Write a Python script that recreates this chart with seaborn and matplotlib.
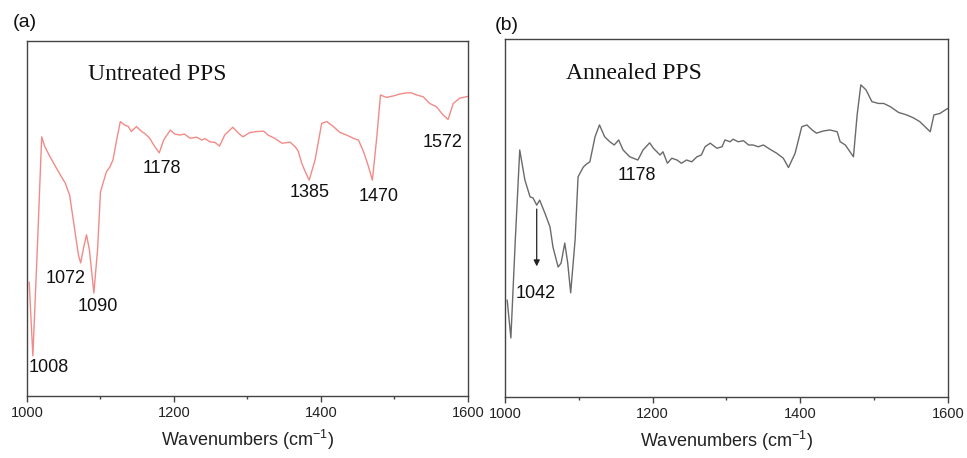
import numpy as np
import pandas as pd
import matplotlib
matplotlib.use("Agg")
import matplotlib.pyplot as plt
import seaborn as sns

# FTIR spectra, transmittance in arbitrary units (0-100)
untreated_wn = [1003, 1008, 1014, 1020, 1024, 1030, 1040, 1047, 1052, 1058, 1065, 1070,
                1073, 1077, 1081, 1085, 1091, 1096, 1100, 1108, 1113, 1117, 1122, 1127,
                1133, 1138, 1142, 1149, 1156, 1160, 1167, 1174, 1180, 1186, 1195, 1201,
                1208, 1214, 1222, 1231, 1238, 1242, 1249, 1256, 1262, 1269, 1280, 1288,
                1294, 1303, 1313, 1322, 1328, 1337, 1347, 1358, 1365, 1369, 1374, 1378,
                1384, 1392, 1401, 1408, 1417, 1426, 1435, 1444, 1451, 1458, 1464, 1470,
                1476, 1481, 1489, 1498, 1508, 1517, 1523, 1530, 1539, 1548, 1557, 1566,
                1573, 1580, 1589, 1598, 1600]
untreated_t = [32.1, 11.3, 41.1, 73.0, 70.4, 67.9, 64.2, 61.7, 60.0, 56.6, 46.8, 39.7,
               37.5, 41.7, 45.4, 41.1, 29.0, 41.1, 57.5, 63.1, 64.6, 66.5, 72.1, 77.3,
               76.3, 75.9, 74.5, 75.9, 74.5, 74.0, 72.6, 70.2, 68.5, 72.1, 74.9, 73.8,
               73.5, 73.8, 72.6, 72.9, 72.1, 72.5, 71.6, 71.4, 70.4, 73.5, 75.7, 74.0,
               73.0, 74.2, 74.5, 74.6, 73.5, 72.6, 71.2, 71.5, 70.2, 69.0, 65.5, 63.5,
               60.8, 66.5, 76.8, 77.3, 75.9, 74.2, 73.5, 72.6, 72.1, 68.8, 65.1, 60.8,
               73.0, 84.8, 84.1, 84.5, 85.1, 85.4, 85.4, 84.8, 84.3, 82.4, 81.5, 79.2,
               77.9, 82.4, 83.9, 84.3, 84.4]

annealed_wn = [1003, 1008, 1014, 1020, 1027, 1034, 1038, 1043, 1047, 1054, 1061, 1065,
               1072, 1076, 1081, 1085, 1089, 1095, 1099, 1106, 1110, 1115, 1122, 1128,
               1135, 1142, 1148, 1154, 1160, 1169, 1180, 1187, 1196, 1201, 1210, 1214,
               1220, 1226, 1233, 1239, 1246, 1253, 1260, 1266, 1271, 1278, 1287, 1294,
               1298, 1305, 1309, 1316, 1323, 1330, 1336, 1343, 1350, 1359, 1368, 1377,
               1384, 1393, 1402, 1409, 1416, 1422, 1431, 1440, 1450, 1454, 1461, 1472,
               1477, 1482, 1489, 1497, 1506, 1513, 1522, 1533, 1544, 1553, 1562, 1576,
               1581, 1589, 1598, 1600]
annealed_t = [27.1, 16.5, 43.9, 69.0, 60.6, 55.9, 55.6, 53.6, 55.0, 51.4, 47.5, 41.9,
              36.3, 37.4, 43.0, 37.4, 29.1, 43.9, 61.5, 64.2, 65.0, 65.7, 72.7, 76.0,
              72.7, 71.3, 70.4, 71.8, 69.0, 67.1, 66.2, 69.0, 71.0, 69.5, 67.6, 68.5,
              65.3, 66.7, 66.2, 65.3, 66.2, 65.7, 67.1, 67.6, 69.9, 70.9, 69.5, 69.9,
              71.8, 71.3, 72.0, 71.3, 71.6, 70.4, 70.4, 69.9, 70.4, 69.2, 68.1, 66.7,
              64.1, 68.1, 75.5, 76.0, 74.6, 73.7, 74.3, 74.6, 74.1, 71.3, 70.4, 67.1,
              78.8, 87.2, 85.8, 82.5, 82.0, 82.0, 81.1, 79.5, 78.8, 78.0, 76.9, 74.1,
              78.8, 79.2, 80.4, 80.6]

# Peak annotations: (text, x, y)
untreated_peaks = [("1008", 1029, 7.9), ("1072", 1053, 33.2), ("1090", 1097, 25.1),
                   ("1178", 1184, 64.2), ("1385", 1385, 57.2), ("1470", 1478, 56.3),
                   ("1572", 1566, 71.3)]
annealed_peaks = [("1178", 1179, 62.0), ("1042", 1042, 28.8)]

xticks = [1000, 1200, 1400, 1600]
xlabel = "Wavenumbers (cm$^{-1}$)"

sns.set_style("white")
plt.rcParams["font.family"] = ["Liberation Sans", "DejaVu Sans"]
plt.rcParams["mathtext.fontset"] = "custom"
plt.rcParams["mathtext.rm"] = "Liberation Sans"

fig = plt.figure(figsize=(9.67, 4.58), dpi=100)
ax_a = fig.add_axes([0.0279, 0.1354, 0.456, 0.7751])
ax_b = fig.add_axes([0.5222, 0.1332, 0.4581, 0.7816])

df_a = pd.DataFrame({"wn": untreated_wn, "t": untreated_t})
df_b = pd.DataFrame({"wn": annealed_wn, "t": annealed_t})

sns.lineplot(data=df_a, x="wn", y="t", ax=ax_a, color="#f28b88", linewidth=1.0,
             estimator=None, sort=False)
sns.lineplot(data=df_b, x="wn", y="t", ax=ax_b, color="#6a6a6a", linewidth=1.0,
             estimator=None, sort=False)

for ax, title in [(ax_a, "Untreated PPS"), (ax_b, "Annealed PPS")]:
    ax.set_xlim(1000, 1600)
    ax.set_ylim(0, 100)
    ax.set_xticks(xticks)
    ax.set_xticks([1100, 1300, 1500], minor=True)
    ax.set_yticks([])
    ax.set_ylabel("")
    ax.set_xlabel(xlabel, fontsize=13, color="#222222", labelpad=6)
    ax.tick_params(axis="x", which="major", direction="out", length=4, width=1,
                   color="#444444", labelsize=10.5, labelcolor="#222222", pad=3,
                   bottom=True)
    ax.tick_params(axis="x", which="minor", direction="out", length=2.5, width=1,
                   color="#444444", bottom=True)
    for sp in ax.spines.values():
        sp.set_color("#444444")
        sp.set_linewidth(1.0)
    ax.text(1083, 90.5, title, family="Liberation Serif", fontsize=17,
            color="#111111", ha="left", va="center")

for text, x, y in untreated_peaks:
    ax_a.text(x, y, text, fontsize=13, ha="center", va="center", color="#111111")
for text, x, y in annealed_peaks:
    ax_b.text(x, y, text, fontsize=13, ha="center", va="center", color="#111111")

# Arrow marking the 1042 shoulder
ax_b.annotate("", xy=(1043, 36.5), xytext=(1043, 52.5),
              arrowprops=dict(arrowstyle="-|>", color="#222222", lw=0.9,
                              mutation_scale=9, shrinkA=0, shrinkB=0))

fig.text(0.026, 0.95, "(a)", fontsize=14, ha="center", va="center", color="#111111")
fig.text(0.524, 0.945, "(b)", fontsize=14, ha="center", va="center", color="#111111")

fig.savefig("out.png", dpi=100)
